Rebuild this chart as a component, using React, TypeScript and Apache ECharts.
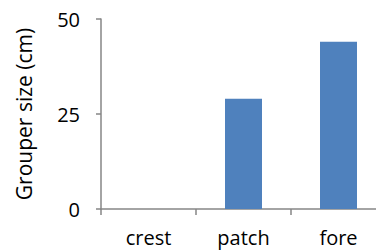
import React, { useEffect, useRef } from "react";
import * as echarts from "echarts";

const categories = ["crest", "patch", "fore"];
const grouperSize = [0, 29, 44];
const yTicks = { min: 0, max: 50, interval: 25 };

const FONT = "Open Sans";
const AXIS_COLOR = "#868686";

export default function App() {
  const ref = useRef<HTMLDivElement>(null);
  useEffect(() => {
    if (!ref.current) return;
    const chart = echarts.init(ref.current, null, { renderer: "svg" });
    chart.setOption({
      animation: false,
      grid: { left: 101, top: 19, bottom: 43, right: -10, outerBoundsMode: "none", containLabel: false },
      xAxis: {
        type: "category",
        data: categories,
        axisLine: { show: true, lineStyle: { color: AXIS_COLOR, width: 1.5 } },
        axisTick: { show: true, length: 6, lineStyle: { color: AXIS_COLOR, width: 1.5 } },
        axisLabel: { color: "#000", fontFamily: FONT, fontSize: 20, margin: 18 },
        splitLine: { show: false },
      },
      yAxis: {
        type: "value",
        min: yTicks.min,
        max: yTicks.max,
        interval: yTicks.interval,
        name: "Grouper size (cm)",
        nameLocation: "middle",
        nameGap: 67,
        nameRotate: 90,
        nameTextStyle: { color: "#000", fontFamily: FONT, fontSize: 21 },
        axisLine: { show: true, lineStyle: { color: AXIS_COLOR, width: 1.5 } },
        axisTick: { show: true, length: 5, lineStyle: { color: AXIS_COLOR, width: 1.5 } },
        axisLabel: { color: "#000", fontFamily: FONT, fontSize: 20, margin: 21 },
        splitLine: { show: false },
      },
      series: [
        {
          type: "bar",
          data: grouperSize,
          barWidth: 37,
          itemStyle: { color: "#4F81BD" },
        },
      ],
    });
    return () => chart.dispose();
  }, []);
  return (
    <div
      ref={ref}
      style={{ position: "absolute", left: 0, top: 0, width: 376, height: 252 }}
    />
  );
}
